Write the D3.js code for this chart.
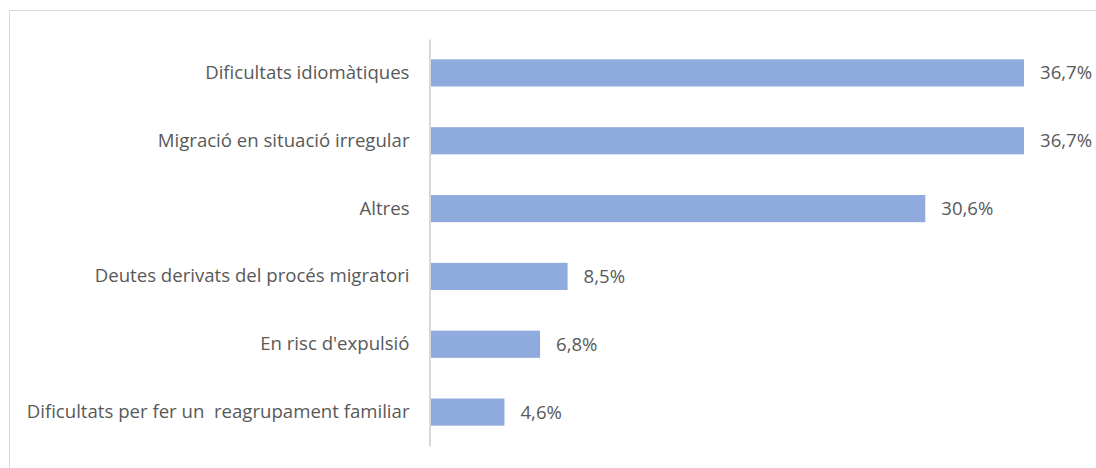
<!DOCTYPE html>
<html>
<head>
<meta charset="utf-8">
<script src="https://cdn.jsdelivr.net/npm/d3@7"></script>
<style>
  body { margin: 0; background: #fff; }
  text { font-family: "Open Sans", sans-serif; fill: #595959; white-space: pre; }
</style>
</head>
<body>
<div id="chart"></div>
<script>
// categories, top to bottom
const categories = [
  "Dificultats idiomàtiques",
  "Migració en situació irregular",
  "Altres",
  "Deutes derivats del procés migratori",
  "En risc d'expulsió",
  "Dificultats per fer un  reagrupament familiar"
];
const values = [36.7, 36.7, 30.6, 8.5, 6.8, 4.6];
const valueLabels = ["36,7%", "36,7%", "30,6%", "8,5%", "6,8%", "4,6%"];

const width = 1096, height = 468;
const margin = { top: 39, bottom: 22, left: 430, right: 0 };
const fontSize = "18.6px";

const svg = d3.select("#chart").append("svg")
  .attr("width", width)
  .attr("height", height);

// chart frame (extends past the picture on the right and bottom)
svg.append("rect")
  .attr("x", 9.5).attr("y", 10.5)
  .attr("width", 1200).attr("height", 600)
  .attr("fill", "none")
  .attr("stroke", "#d9d9d9");

const x = d3.scaleLinear()
  .domain([0, 36.7])
  .range([margin.left, 1024]);

const y = d3.scaleBand()
  .domain(categories)
  .range([margin.top, height - margin.bottom])
  .paddingInner(0.6)
  .paddingOuter(0.3);

const g = svg.append("g");

g.selectAll("rect.bar").data(categories).enter()
  .append("rect")
  .attr("class", "bar")
  .attr("x", x(0))
  .attr("y", d => y(d))
  .attr("width", (d, i) => x(values[i]) - x(0))
  .attr("height", y.bandwidth())
  .attr("fill", "#8faadc");

// category axis
const yAxis = g.append("g")
  .attr("transform", `translate(${x(0) - 0.5},0)`)
  .call(d3.axisLeft(y).tickSize(0).tickPadding(20));
yAxis.select(".domain").attr("stroke", "#d9d9d9").attr("stroke-width", 2);
yAxis.selectAll("text")
  .style("font-family", '"Open Sans", sans-serif')
  .style("font-size", fontSize)
  .attr("fill", "#595959");

// value labels
g.selectAll("text.val").data(categories).enter()
  .append("text")
  .attr("class", "val")
  .attr("x", (d, i) => x(values[i]) + 16)
  .attr("y", d => y(d) + y.bandwidth() / 2)
  .attr("dy", "0.35em")
  .style("font-size", fontSize)
  .text((d, i) => valueLabels[i]);
</script>
</body>
</html>
